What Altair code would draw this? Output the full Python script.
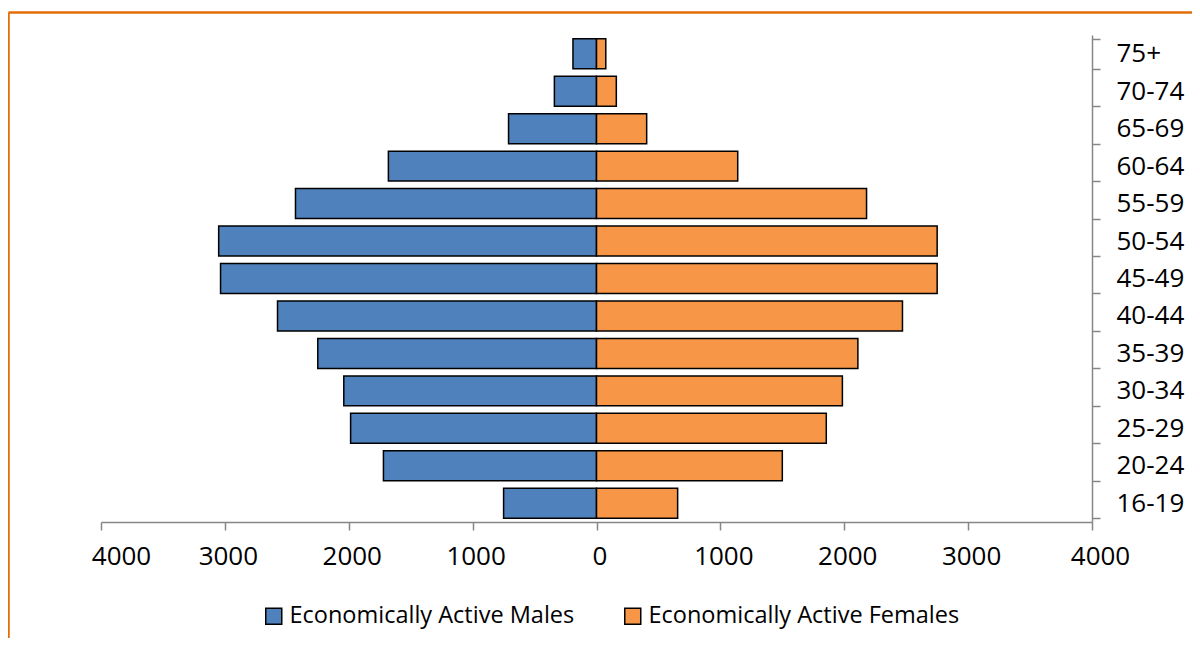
import altair as alt
import pandas as pd

ages = ["16-19", "20-24", "25-29", "30-34", "35-39", "40-44", "45-49",
        "50-54", "55-59", "60-64", "65-69", "70-74", "75+"]
males = [750, 1720, 1985, 2040, 2250, 2575, 3035, 3050, 2430, 1680, 710, 340, 190]
females = [655, 1500, 1855, 1985, 2110, 2470, 2750, 2750, 2180, 1140, 405, 160, 75]
series = ["Economically Active Males", "Economically Active Females"]
colors = ["#4F81BD", "#F79646"]
x_ticks = [-4000, -3000, -2000, -1000, 0, 1000, 2000, 3000, 4000]

rows = []
for a, m, f in zip(ages, males, females):
    rows.append({"age": a, "series": series[0], "value": -m})
    rows.append({"age": a, "series": series[1], "value": f})
df = pd.DataFrame(rows)

FONT = "Open Sans"
order = list(reversed(ages))

x_label_offset = {
    "condition": [
        {"test": "datum.value == -4000", "value": 20},
        {"test": "datum.value == 4000", "value": 8},
    ],
    "value": 3,
}

bars = alt.Chart(df).mark_bar(stroke="black", strokeWidth=1.5).encode(
    x=alt.X("value:Q",
            scale=alt.Scale(domain=[-4000, 4000], nice=False),
            axis=alt.Axis(values=x_ticks, title=None, grid=False,
                          labelExpr="format(abs(datum.value), 'd')",
                          labelFlush=False, labelOffset=x_label_offset,
                          domainColor="#868686", tickColor="#868686",
                          tickSize=8, tickWidth=1.5, domainWidth=1.5,
                          labelFont=FONT, labelFontSize=26, labelColor="black",
                          labelPadding=13)),
    y=alt.Y("age:N", sort=order,
            scale=alt.Scale(paddingInner=0.2, paddingOuter=0.1),
            axis=alt.Axis(orient="right", title=None, tickBand="extent",
                          domainColor="#868686", tickColor="#868686",
                          tickSize=8, tickWidth=1.5, domainWidth=1.5,
                          labelFont=FONT, labelFontSize=26, labelColor="black",
                          labelPadding=16)),
    color=alt.Color("series:N",
                    scale=alt.Scale(domain=series, range=colors),
                    legend=alt.Legend(title=None, orient="none",
                                      legendX=161, legendY=569,
                                      direction="horizontal", columns=2,
                                      columnPadding=46,
                                      symbolType="square", symbolSize=256,
                                      symbolStrokeColor="black",
                                      symbolStrokeWidth=1.5,
                                      symbolOpacity=1,
                                      labelFont=FONT, labelFontSize=23.5,
                                      labelColor="black", labelOffset=4,
                                      labelLimit=400)),
)

border_df = pd.DataFrame({"k": [0]})
top_line = alt.Chart(border_df).mark_rule(color="#E36C09", strokeWidth=2.5).encode(
    x=alt.value(-92.5), x2=alt.value(1200), y=alt.value(-22.5)
)
left_line = alt.Chart(border_df).mark_rule(color="#E36C09", strokeWidth=2.5).encode(
    x=alt.value(-92.5), y=alt.value(-22.5), y2=alt.value(700)
)

chart = alt.layer(bars, top_line, left_line).properties(
    width=991, height=487,
    autosize=alt.AutoSizeParams(type="none"),
    padding={"left": 93, "top": 27, "right": 100, "bottom": 116},
).configure_view(stroke=None)

chart.save("out.html", embed_options={"renderer": "svg", "actions": False})
